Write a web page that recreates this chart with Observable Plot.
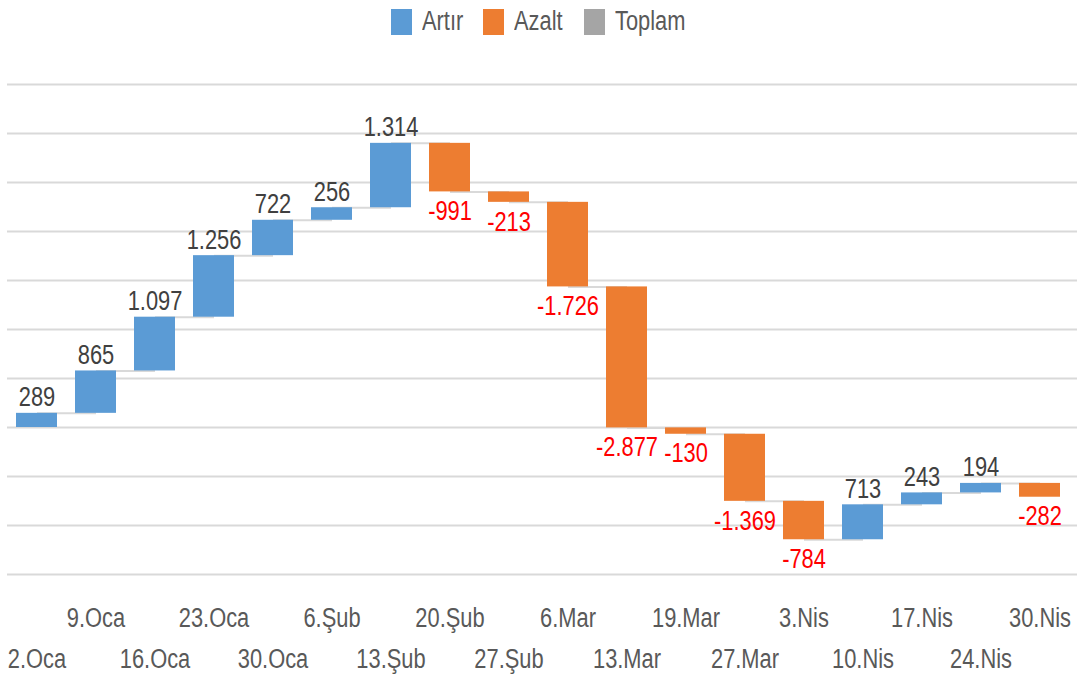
<!DOCTYPE html>
<html>
<head>
<meta charset="utf-8">
<script src="https://cdn.jsdelivr.net/npm/d3@7"></script>
<script src="https://cdn.jsdelivr.net/npm/@observablehq/plot@0.6"></script>
<style>
  html, body { margin: 0; padding: 0; background: #fff; }
  body { width: 1077px; height: 680px; overflow: hidden; font-family: "Liberation Sans", Arial, sans-serif; }
  #legend { height: 46px; display: flex; justify-content: center; align-items: center; color: #595959; font-size: 27px; }
  #legend .item { display: flex; align-items: center; margin: -3px 0 0 0; }
  #legend .sw { width: 21px; height: 26px; margin-right: 10px; }
  #legend .lbl { display: inline-block; transform: scaleX(0.81); transform-origin: left center; white-space: nowrap; }
</style>
</head>
<body>
<div id="legend"></div>
<div id="chart"></div>
<script>
const categories = ["2.Oca","9.Oca","16.Oca","23.Oca","30.Oca","6.Şub","13.Şub","20.Şub","27.Şub","6.Mar","13.Mar","19.Mar","27.Mar","3.Nis","10.Nis","17.Nis","24.Nis","30.Nis"];
const values = [289, 865, 1097, 1256, 722, 256, 1314, -991, -213, -1726, -2877, -130, -1369, -784, 713, 243, 194, -282];
const gridTicks = [-3000, -2000, -1000, 0, 1000, 2000, 3000, 4000, 5000, 6000, 7000];
const legendLabels = ["Artır", "Azalt", "Toplam"];
const legendColors = ["#5b9bd5", "#ed7d31", "#a5a5a5"];

// legend
const lg = document.getElementById("legend");
const legendGaps = [19, 22, 0];
legendLabels.forEach((l, i) => {
  const it = document.createElement("div"); it.className = "item";
  const sw = document.createElement("div"); sw.className = "sw"; sw.style.background = legendColors[i];
  const tx = document.createElement("span"); tx.className = "lbl"; tx.textContent = l;
  it.appendChild(sw); it.appendChild(tx); lg.appendChild(it);
  it.style.marginRight = legendGaps[i] + "px";
});
lg.querySelectorAll(".lbl").forEach(s => {
  const w = s.getBoundingClientRect().width / 0.81;
  s.style.marginRight = (-(w * 0.19)) + "px";
});

// waterfall data
let acc = 0;
const data = categories.map((c, i) => {
  const start = acc; acc += values[i];
  return {cat: c, value: values[i], start, end: acc, type: values[i] >= 0 ? "Artır" : "Azalt"};
});
const connectors = data.slice(0, -1).map((d, i) => ({x1: d.cat, x2: categories[i + 1], y: d.end}));
const pos = data.filter(d => d.value >= 0);
const neg = data.filter(d => d.value < 0);
const fmt = d3.formatLocale({decimal: ",", thousands: ".", grouping: [3], currency: ["", ""], minus: "-"}).format(",d");
const topRow = categories.filter((c, i) => i % 2 === 1);
const bottomRow = categories.filter((c, i) => i % 2 === 0);

const chart = Plot.plot({
  width: 1077,
  height: 634,
  marginLeft: 7,
  marginRight: 0,
  marginTop: 38,
  marginBottom: 106,
  x: {domain: categories, range: [7.5, 1069.5], paddingInner: 0.3, paddingOuter: 0.15, axis: null},
  y: {domain: [-3000, 7000], axis: null},
  color: {domain: legendLabels, range: legendColors},
  style: {fontFamily: '"Liberation Sans", Arial, sans-serif', fontSize: "27px", background: "white", overflow: "visible"},
  marks: [
    Plot.ruleY(gridTicks, {stroke: "#d9d9d9", strokeWidth: 2}),
    Plot.link(connectors, {x1: "x1", x2: "x2", y1: "y", y2: "y", stroke: "#d9d9d9", strokeWidth: 2}),
    Plot.barY(data, {x: "cat", y1: "start", y2: "end", fill: "type"}),
    Plot.text(pos, {x: "cat", y: "end", text: d => fmt(d.value), lineAnchor: "bottom", dy: -7, fill: "#404040"}),
    Plot.text(neg, {x: "cat", y: "end", text: d => fmt(d.value), lineAnchor: "top", dy: 9, fill: "#ff0000"}),
    Plot.axisX(topRow, {tickSize: 0, tickPadding: 33, color: "#595959", fontSize: 27}),
    Plot.axisX(bottomRow, {tickSize: 0, tickPadding: 74, color: "#595959", fontSize: 27})
  ]
});
// emulate a narrow typeface: squeeze each text horizontally around its anchor
chart.querySelectorAll("text").forEach(t => {
  const tr = t.getAttribute("transform") || "";
  t.setAttribute("transform", (tr + " scale(0.81,1)").trim());
});
document.getElementById("chart").appendChild(chart);
</script>
</body>
</html>
